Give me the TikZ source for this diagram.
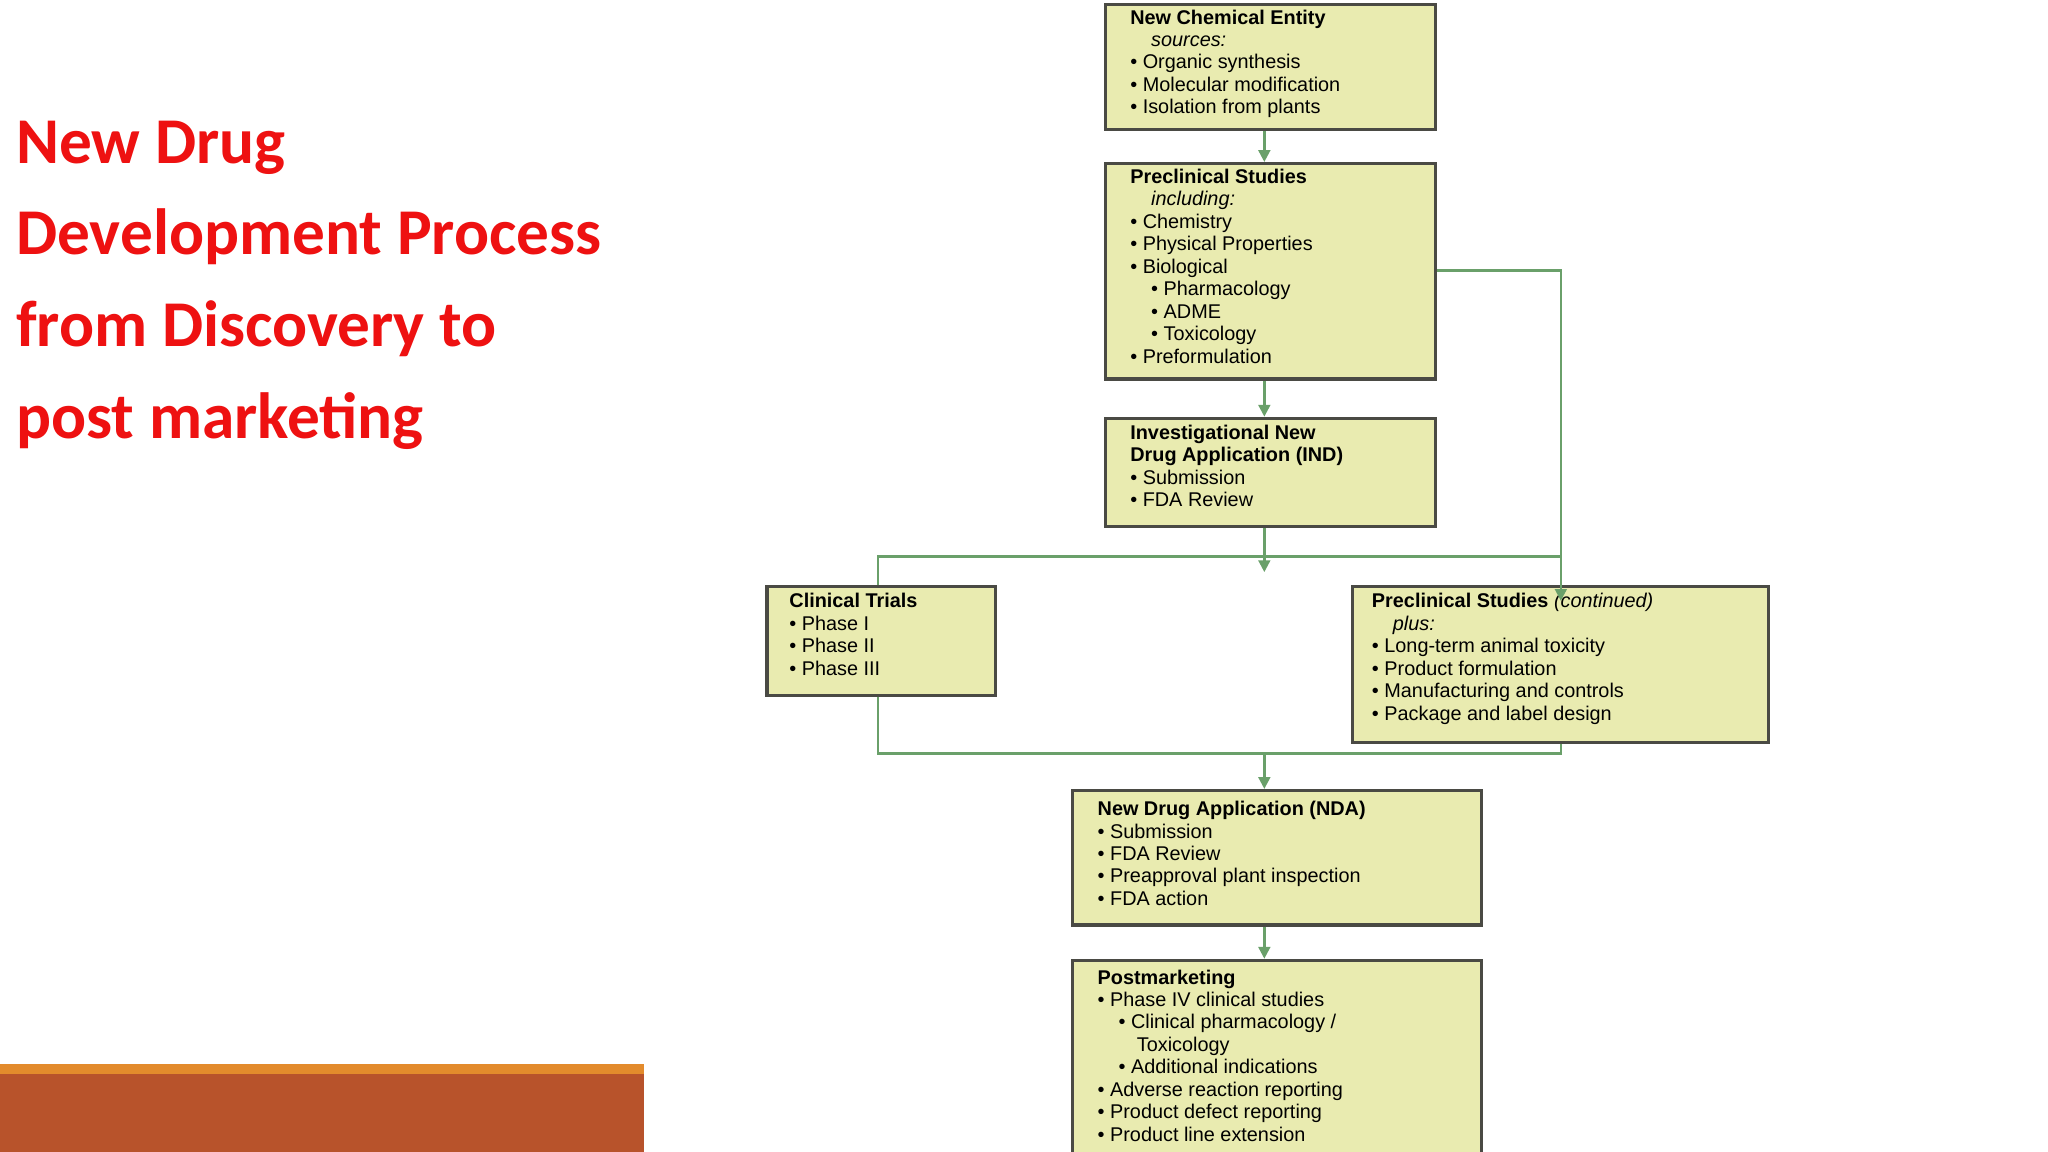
\documentclass[tikz,border=0pt]{standalone}
\usepackage{fontspec}
\setmainfont{Liberation Sans}
\newfontfamily\titlefont{Carlito}
\usetikzlibrary{arrows.meta,calc}
\definecolor{boxfill}{HTML}{E9EBB0}
\definecolor{boxline}{HTML}{4A4A44}
\definecolor{lnk}{HTML}{6AA06A}
\definecolor{ttl}{HTML}{EE1111}
\definecolor{barbrown}{HTML}{B8532B}
\definecolor{barorange}{HTML}{E38B2C}
\tikzset{
 box/.style={draw=boxline,line width=1.2pt,fill=boxfill,anchor=north west,inner sep=0pt},
 txt/.style={anchor=north west,align=left,inner sep=0pt,font=\fontsize{7.6}{8.6}\selectfont},
 lnkline/.style={draw=lnk,line width=0.9pt},
 arr/.style={lnkline,-{Triangle[length=4.5pt,width=4.5pt]}}
}
\begin{document}
\begin{tikzpicture}[x=0.5pt,y=-0.5pt]
\useasboundingbox (0,0) rectangle (1568,882);
\fill[white] (0,0) rectangle (1568,882);
% title
\node[anchor=north west,align=left,inner sep=0pt,text=ttl,font=\titlefont\bfseries\fontsize{25}{35.2}\selectfont] (title) at (12,92) {New Drug\\Development Process\\from Discovery to\\post marketing};
% bottom bar
\fill[barorange] (0,815) rectangle (493,822);
\fill[barbrown] (0,822) rectangle (493,882);
% boxes
\node[box,minimum width=126.5pt,minimum height=48pt] (nce) at (845,2) {};
\node[box,minimum width=126.5pt,minimum height=82.5pt] (pre) at (845,124) {};
\node[box,minimum width=126.5pt,minimum height=41.5pt] (ind) at (845,319) {};
\node[box,minimum width=87.5pt,minimum height=41.5pt] (ct) at (586,448) {};
\node[box,minimum width=159.5pt,minimum height=59.5pt] (pc2) at (1034,448) {};
\node[box,minimum width=156.5pt,minimum height=51.5pt] (nda) at (820,604) {};
\node[box,minimum width=156.5pt,minimum height=80pt] (post) at (820,734) {};
% texts
\node[txt] (t1) at ($(nce.north west)+(20,5)$) {\textbf{New Chemical Entity}\\\hspace*{8pt}\textit{sources:}\\• Organic synthesis\\• Molecular modification\\• Isolation from plants};
\node[txt] (t2) at ($(pre.north west)+(20,5)$) {\textbf{Preclinical Studies}\\\hspace*{8pt}\textit{including:}\\• Chemistry\\• Physical Properties\\• Biological\\\hspace*{8pt}• Pharmacology\\\hspace*{8pt}• ADME\\\hspace*{8pt}• Toxicology\\• Preformulation};
\node[txt] (t3) at ($(ind.north west)+(20,6)$) {\textbf{Investigational New}\\\textbf{Drug Application (IND)}\\• Submission\\• FDA Review};
\node[txt] (t4) at ($(ct.north west)+(18,6)$) {\textbf{Clinical Trials}\\• Phase I\\• Phase II\\• Phase III};
\node[txt] (t5) at ($(pc2.north west)+(16,6)$) {\textbf{Preclinical Studies} \textit{(continued)}\\\hspace*{8pt}\textit{plus:}\\• Long-term animal toxicity\\• Product formulation\\• Manufacturing and controls\\• Package and label design};
\node[txt] (t6) at ($(nda.north west)+(20,9)$) {\textbf{New Drug Application (NDA)}\\• Submission\\• FDA Review\\• Preapproval plant inspection\\• FDA action};
\node[txt] (t7) at ($(post.north west)+(20,8)$) {\textbf{Postmarketing}\\• Phase IV clinical studies\\\hspace*{8pt}• Clinical pharmacology /\\\hspace*{15pt}Toxicology\\\hspace*{8pt}• Additional indications\\• Adverse reaction reporting\\• Product defect reporting\\• Product line extension};
% connectors
\coordinate (split) at (968,426);
\coordinate (join) at (968,577);
\draw[arr] (nce.south -| 968,0) -- (pre.north -| 968,0);
\draw[arr] (pre.south -| 968,0) -- (ind.north -| 968,0);
\draw[arr] (ind.south -| 968,0) -- ([yshift=-6]split);
\draw[lnkline] (ct.north -| 672,0) -- (672,426) -- (1195,426);
\draw[arr] (pre.east |- 0,207) -- (1195,207) -- ([yshift=-6]pc2.north -| 1195,0);
\draw[lnkline] (ct.south -| 672,0) -- (672,577) -- (1195,577) -- (pc2.south -| 1195,0);
\draw[arr] (join) -- (nda.north -| 968,0);
\draw[arr] (nda.south -| 968,0) -- (post.north -| 968,0);
\end{tikzpicture}
\end{document}
